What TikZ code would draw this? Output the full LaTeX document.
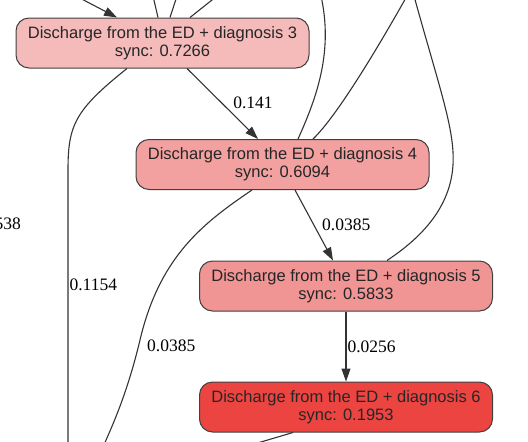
\documentclass[tikz,border=0pt]{standalone}
\usepackage{fontspec}
\setmainfont{Liberation Serif}
\newfontfamily\boxfont{Liberation Sans}
\usetikzlibrary{arrows.meta}
\definecolor{dxthree}{RGB}{245,186,186}
\definecolor{dxfour}{RGB}{242,160,160}
\definecolor{dxfive}{RGB}{240,148,148}
\definecolor{dxsix}{RGB}{236,68,64}
\begin{document}
\begin{tikzpicture}[x=1pt,y=-1pt,
    dxbox/.style={draw=black!75,line width=1pt,rounded corners=13pt,minimum width=293pt,minimum height=50pt,align=center,inner sep=0pt,font=\boxfont\fontsize{16.5}{18}\selectfont,text=black!85},
    edge/.style={draw=black!80,line width=1.1pt},
    arr/.style={edge,-{Triangle[length=13pt,width=9pt]}},
    lbl/.style={font=\fontsize{17.5}{18}\selectfont,inner sep=1pt}]
    % \helpgrid{528}{442}
    \useasboundingbox (0,0) rectangle (528,442);
    \node [dxbox,fill=dxthree] (dx3) at (162.5,43) {Discharge from the ED + diagnosis 3\\sync: 0.7266};
    \node [dxbox,fill=dxfour] (dx4) at (282.5,164.5) {Discharge from the ED + diagnosis 4\\sync: 0.6094};
    \node [dxbox,fill=dxfive] (dx5) at (346,286) {Discharge from the ED + diagnosis 5\\sync: 0.5833};
    \node [dxbox,fill=dxsix] (dx6) at (346,407) {Discharge from the ED + diagnosis 6\\sync: 0.1953};
    \coordinate (in3) at (74,-5);
    \coordinate (up3a) at (153,-4);
    \coordinate (up3b) at (177,-4);
    \coordinate (up3c) at (217,-4);
    \coordinate (low3) at (68,447);
    \coordinate (up4a) at (321,-4);
    \coordinate (up4b) at (407,-4);
    \coordinate (up5) at (414,-4);
    \coordinate (low4) at (103,447);
    \coordinate (low6) at (244,447);
    \draw [arr] (in3) -- ([xshift=-45.5pt]dx3.north);
    \draw [edge] ([xshift=-4.5pt]dx3.north) -- (up3a);
    \draw [edge] ([xshift=7.5pt]dx3.north) -- (up3b);
    \draw [edge] ([xshift=27.5pt]dx3.north) -- (up3c);
    \draw [edge] ([xshift=-35.5pt]dx3.south) .. controls (75,110) and (68,125) .. (68,170) -- node [lbl,right,pos=0.415] {0.1154} (low3);
    \draw [arr] ([xshift=24.5pt]dx3.south) -- node [lbl,pos=0.49,right=10pt] {0.141} ([xshift=-24.5pt]dx4.north);
    \draw [edge] ([xshift=15.5pt]dx4.north) .. controls (318,95) and (333,50) .. (up4a);
    \draw [edge] ([xshift=30.5pt]dx4.north) .. controls (335,118) and (372,58) .. (up4b);
    \draw [arr] ([xshift=12.5pt]dx4.south) -- node [lbl,pos=0.49,right=7pt] {0.0385} ([xshift=-13pt]dx5.north);
    \draw [edge] ([xshift=-30.5pt]dx4.south) .. controls (205,222) and (160,255) .. (140,340) .. controls (128,390) and (115,420) .. (low4);
    \node [lbl,anchor=west] (p4) at (146,346) {0.0385};
    \draw [edge] ([xshift=41pt]dx5.north) .. controls (410,245) and (450,215) .. (453,165) .. controls (455,130) and (440,90) .. (up5);
    \draw [arr] (dx5.south) -- node [lbl,right,pos=0.5] {0.0256} (dx6.north);
    \draw [edge] ([xshift=-53pt]dx6.south) -- (low6);
    \node [lbl,anchor=east] (p3) at (22,224) {0.1538};
\end{tikzpicture}
\end{document}
